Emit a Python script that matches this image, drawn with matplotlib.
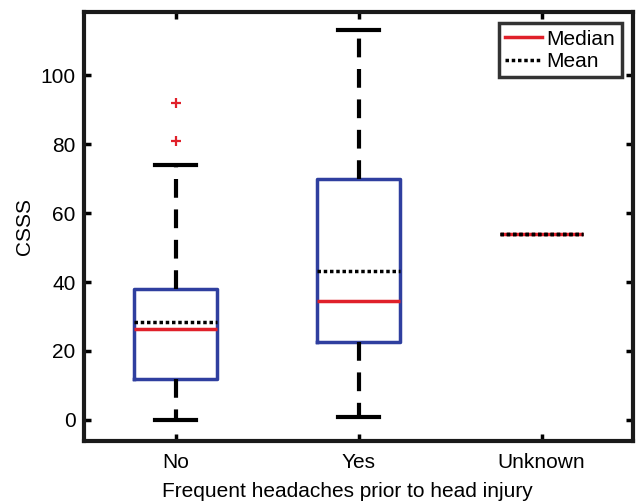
import matplotlib
matplotlib.use("Agg")
import matplotlib.pyplot as plt
from matplotlib.lines import Line2D

plt.rcParams['font.family'] = ['Liberation Sans', 'DejaVu Sans']

categories = ["No", "Yes", "Unknown"]
q1 = [12.0, 22.5, 54.0]
q3 = [38.0, 70.0, 54.0]
medians = [26.4, 34.5, 54.0]
means = [28.4, 43.3, 54.0]
whislo = [0.0, 1.0, 54.0]
whishi = [74.0, 113.0, 54.0]
outliers = [[92.0, 81.0], [], []]

stats = []
for i, c in enumerate(categories):
    stats.append(dict(label=c, q1=q1[i], q3=q3[i], med=medians[i], mean=means[i],
                      whislo=whislo[i], whishi=whishi[i], fliers=outliers[i]))

fig = plt.figure(figsize=(6.36, 5.04), dpi=100)
ax = fig.add_axes([84/636, 1-441/504, (633-84)/636, (441-12)/504])

pos = [1, 2, 3]
blue = '#2f3f9f'
red = '#e0202a'
ax.bxp(stats[:2], positions=pos[:2], widths=0.45, showmeans=False, showfliers=True,
       boxprops=dict(color=blue, linewidth=2.5),
       whiskerprops=dict(color='black', linewidth=3, linestyle=(0, (4.5, 2.8))),
       capprops=dict(color='black', linewidth=3),
       capwidths=0.22,
       medianprops=dict(color=red, linewidth=2.5),
       flierprops=dict(marker='+', markeredgecolor=red, markersize=7, markeredgewidth=1.6),
       manage_ticks=False)

for i, p in enumerate(pos):
    ax.hlines(means[i], p - 0.225, p + 0.225, colors='black', linewidth=2.5,
              linestyles=(0, (1, 0.8)), zorder=4)
ax.hlines(medians[2], pos[2] - 0.225, pos[2] + 0.225, colors=red, linewidth=2.5, zorder=3)
ax.hlines(means[2], pos[2] - 0.225, pos[2] + 0.225, colors='black', linewidth=2.5,
          linestyles=(0, (1, 0.8)), zorder=4)

ax.set_xlim(0.5, 3.5)
ax.set_ylim(-6.1, 118.3)
ax.set_xticks(pos)
ax.set_xticklabels(categories)
ax.set_yticks([0, 20, 40, 60, 80, 100])
ax.tick_params(axis='both', direction='in', length=5, width=2.5, labelsize=15,
               top=True, right=True)
ax.tick_params(axis='x', pad=9)
ax.tick_params(axis='y', pad=6)
for s in ax.spines.values():
    s.set_linewidth(3)
    s.set_color('#1a1a1a')
ax.set_ylabel('CSSS', fontsize=15, labelpad=5)
ax.set_xlabel('Frequent headaches prior to head injury', fontsize=15, labelpad=7, x=0.48)

handles = [Line2D([], [], color=red, linewidth=2.5),
           Line2D([], [], color='black', linewidth=2.5, linestyle=(0, (1, 0.8)))]
leg = ax.legend(handles, ['Median', 'Mean'], loc='upper right', fontsize=15,
                frameon=True, fancybox=False, handlelength=1.8, handletextpad=0.2,
                borderpad=0.3, labelspacing=0.15, borderaxespad=0.55)
leg.get_frame().set_edgecolor('black')
leg.get_frame().set_linewidth(2.5)

fig.savefig('out.png', dpi=100)
